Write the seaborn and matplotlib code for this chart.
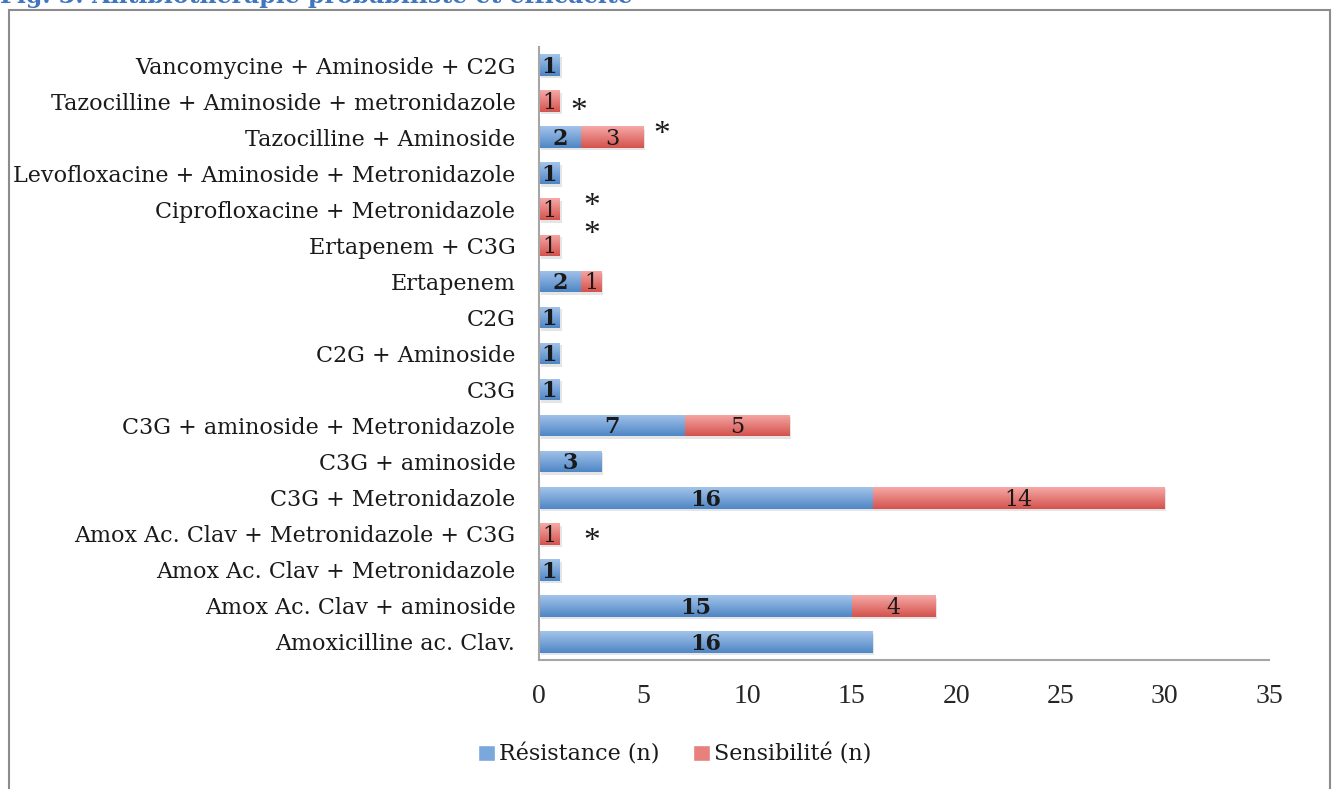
import numpy as np
import pandas as pd
import matplotlib
matplotlib.use("Agg")
import matplotlib.pyplot as plt
from matplotlib.patches import Rectangle
from matplotlib.colors import LinearSegmentedColormap
import seaborn as sns

categories = [
    "Vancomycine + Aminoside + C2G",
    "Tazocilline + Aminoside + metronidazole",
    "Tazocilline + Aminoside",
    "Levofloxacine + Aminoside + Metronidazole",
    "Ciprofloxacine + Metronidazole",
    "Ertapenem + C3G",
    "Ertapenem",
    "C2G",
    "C2G + Aminoside",
    "C3G",
    "C3G + aminoside + Metronidazole",
    "C3G + aminoside",
    "C3G + Metronidazole",
    "Amox Ac. Clav + Metronidazole + C3G",
    "Amox Ac. Clav + Metronidazole",
    "Amox Ac. Clav + aminoside",
    "Amoxicilline ac. Clav.",
]
resistance = [1, 0, 2, 1, 0, 0, 2, 1, 1, 1, 7, 3, 16, 0, 1, 15, 16]
sensibilite = [0, 1, 3, 0, 1, 1, 1, 0, 0, 0, 5, 0, 14, 1, 0, 4, 0]
# asterisk annotations: (category, x position in data units, vertical offset in rows)
asterisks = [
    ("Tazocilline + Aminoside + metronidazole", 1.9, 0.1),
    ("Tazocilline + Aminoside", 5.9, -0.28),
    ("Ciprofloxacine + Metronidazole", 2.55, -0.27),
    ("Ciprofloxacine + Metronidazole", 2.55, 0.5),
    ("Amox Ac. Clav + Metronidazole + C3G", 2.55, 0.03),
]
xticks = [0, 5, 10, 15, 20, 25, 30, 35]

df = pd.DataFrame({"cat": categories, "R": resistance, "S": sensibilite})
df["total"] = df["R"] + df["S"]

sns.set_style("white")
plt.rcParams["font.family"] = ["DejaVu Serif"]

fig = plt.figure(figsize=(13.38, 7.89), dpi=100)
ax = fig.add_axes([539 / 1338, 1 - 660 / 789, 730 / 1338, (660 - 47) / 789])

blue_mid = "#6f9fd6"
red_mid = "#e57b77"
sns.barplot(data=df, y="cat", x="total", color=red_mid, orient="h", width=0.6,
            saturation=1, ax=ax, order=categories, linewidth=0)
n_red = len(ax.patches)
sns.barplot(data=df, y="cat", x="R", color=blue_mid, orient="h", width=0.6,
            saturation=1, ax=ax, order=categories, linewidth=0)

blue_cmap = LinearSegmentedColormap.from_list("b", ["#a3c4ea", "#4f86c6"])
red_cmap = LinearSegmentedColormap.from_list("r", ["#f5a9a6", "#d5524d"])
grad = np.linspace(0, 1, 64).reshape(-1, 1)

for i, p in enumerate(list(ax.patches)):
    w = p.get_width()
    p.set_linewidth(0)
    if w <= 0:
        continue
    x0, y0 = p.get_x(), p.get_y()
    h = p.get_height()
    cmap = red_cmap if i < n_red else blue_cmap
    if i < n_red:
        sh = Rectangle((x0 + 0.08, y0 + 0.07), w, h, facecolor="#000000", alpha=0.10,
                       edgecolor="none", zorder=p.get_zorder() - 0.5)
        ax.add_patch(sh)
    else:
        p.set_zorder(p.get_zorder() + 1)
    im = ax.imshow(grad, cmap=cmap, aspect="auto", extent=(x0, x0 + w, y0 + h, y0),
                   zorder=p.get_zorder() + 0.01, interpolation="bicubic")
    im.set_clip_path(p)

ax.set_xlim(0, 35)
ax.set_ylim(len(categories) - 0.5, -0.5)
ax.set_xticks(xticks)
ax.set_xticklabels([str(t) for t in xticks], fontsize=20, family="Liberation Serif")
ax.tick_params(axis="x", length=0, pad=17)
ax.tick_params(axis="y", length=0, pad=17)
ax.set_yticklabels(categories, fontsize=16, color="#1a1a1a")
ax.set_xlabel("")
ax.set_ylabel("")
for s in ["top", "right"]:
    ax.spines[s].set_visible(False)
for s in ["left", "bottom"]:
    ax.spines[s].set_color("#a6a6a6")
    ax.spines[s].set_linewidth(1.5)

for idx, (r, s) in enumerate(zip(resistance, sensibilite)):
    if r > 0:
        ax.text(r / 2, idx + 0.05, str(r), ha="center", va="center", fontsize=16,
                fontweight="bold", color="#1a1a1a", zorder=10)
    if s > 0:
        ax.text(r + s / 2, idx + 0.05, str(s), ha="center", va="center", fontsize=16,
                color="#1a1a1a", zorder=10)

for cat, xv, dy in asterisks:
    ax.text(xv, categories.index(cat) + dy + 0.2, "*", ha="center", va="center",
            fontsize=24, family="Liberation Serif", color="#1a1a1a", zorder=10)

handles = [Rectangle((0, 0), 1, 1, facecolor="#7aa7dc"),
           Rectangle((0, 0), 1, 1, facecolor="#e8817d")]
fig.legend(handles, ["Résistance (n)", "Sensibilité (n)"], loc="center",
           bbox_to_anchor=(675 / 1338, 1 - 755 / 789), ncol=2, frameon=False,
           fontsize=16, handlelength=0.75, handleheight=0.75, handletextpad=0.2,
           columnspacing=1.5, labelcolor="#1a1a1a")

fig.patches.append(Rectangle((9 / 1338, -0.05), 1321 / 1338, 1.05 - 10 / 789,
                             transform=fig.transFigure, fill=False,
                             edgecolor="#8c8c8c", linewidth=1.5))
fig.text(0.0, 1 + 4 / 789, "Fig. 3: Antibiothérapie probabiliste et efficacité",
         fontsize=17, fontweight="bold", color="#3f76bd", ha="left", va="center")

fig.savefig("out.png", dpi=100)
